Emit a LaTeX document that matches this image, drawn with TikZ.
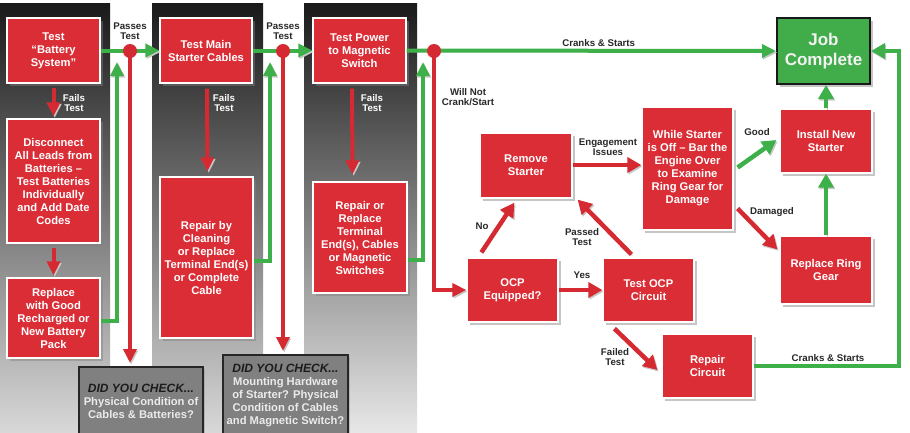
\documentclass[tikz,border=0pt]{standalone}
\usepackage{fontspec}
\setmainfont{Liberation Sans}
\usetikzlibrary{arrows.meta,shadows,calc}
\definecolor{boxred}{RGB}{218,45,54}
\definecolor{lnred}{RGB}{214,42,50}
\definecolor{lngreen}{RGB}{62,176,74}
\definecolor{jobgreen}{RGB}{64,172,74}
\definecolor{chkgray}{RGB}{128,128,128}
\definecolor{lblc}{RGB}{40,40,40}
\newcommand{\myChkHead}{\fontsize{12}{13}\selectfont\bfseries\itshape\color{lblc!70!black}}
\begin{document}
\begin{tikzpicture}[x=1pt,y=-1pt,
  redbox/.style={fill=boxred, draw=white, line width=1.2pt, text=white,
    font=\fontsize{11.2}{13}\selectfont\bfseries, align=center, inner sep=0pt,
    drop shadow={shadow xshift=2.5pt,shadow yshift=-2.5pt,opacity=0.45}},
  jobbox/.style={fill=jobgreen, draw=black!90, line width=2pt, text=white!95!black,
    font=\fontsize{17}{20}\selectfont\bfseries, align=center, inner sep=0pt,
    drop shadow={shadow xshift=2.5pt,shadow yshift=-2.5pt,opacity=0.45}},
  chkbox/.style={fill=chkgray, draw=black!85, line width=2pt, text=white!92!black,
    font=\fontsize{11.2}{13}\selectfont\bfseries, align=center, inner sep=0pt,
    drop shadow={shadow xshift=2pt,shadow yshift=-2pt,opacity=0.35}},
  lbl/.style={text=lblc, font=\fontsize{9.7}{10}\selectfont\bfseries, align=center, inner sep=0pt},
  faillbl/.style={lbl, text=white},
  lshadow/.style={preaction={draw=black!22, transform canvas={shift={(1.2pt,-1.5pt)}}}},
  gline/.style={draw=lngreen, line width=4pt, lshadow},
  garrow/.style={gline, -{Triangle[width=13pt,length=14pt]}},
  rline/.style={draw=lnred, line width=4pt, lshadow},
  rarrow/.style={rline, -{Triangle[width=13pt,length=14pt]}},
  bigr/.style={draw=lnred, line width=4.5pt, lshadow, -{Triangle[width=15pt,length=14pt]}},
  bigg/.style={draw=lngreen, line width=4.5pt, lshadow, -{Triangle[width=15pt,length=14pt]}},
  junc/.style={circle, fill=lnred, minimum size=14pt, inner sep=0pt}
]
\useasboundingbox (0,0) rectangle (910,432);
\fill[white] (0,0) rectangle (910,432);
% column panels
\shade[top color=black!90, middle color=black!62, bottom color=black!14] (0,3) rectangle (110,440);
\shade[top color=black!90, middle color=black!62, bottom color=black!14] (152,3) rectangle (263,440);
\shade[top color=black!90, middle color=black!62, bottom color=black!8] (304,3) rectangle (417,440);

% boxes column 1
\node[redbox, minimum width=93, minimum height=65] (tb) at (53.5,50.5) {Test\\“Battery\\System”};
\node[redbox, minimum width=93, minimum height=124] (dc) at (53.5,181) {Disconnect\\All Leads from\\Batteries –\\Test Batteries\\Individually\\and Add Date\\Codes};
\node[redbox, minimum width=93, minimum height=80] (rb) at (53.5,318) {Replace\\with Good\\Recharged or\\New Battery\\Pack};
% column 2
\node[redbox, minimum width=92, minimum height=65] (tm) at (206,50.5) {Test Main\\Starter Cables};
\node[redbox, minimum width=93, minimum height=161] (rc) at (206.5,257.5) {Repair by\\Cleaning\\or Replace\\Terminal End(s)\\or Complete\\Cable};
% column 3
\node[redbox, minimum width=93, minimum height=65] (tp) at (359.5,50.5) {Test Power\\to Magnetic\\Switch};
\node[redbox, minimum width=94, minimum height=111] (rr) at (360,237.5) {Repair or\\Replace\\Terminal\\End(s), Cables\\or Magnetic\\Switches};
% right part
\node[redbox, minimum width=92, minimum height=65] (rs) at (526,165.5) {Remove\\Starter};
\node[redbox, minimum width=91, minimum height=123] (ws) at (687.5,168.5) {While Starter\\is Off – Bar the\\Engine Over\\to Examine\\Ring Gear for\\Damage};
\node[redbox, minimum width=92, minimum height=64] (ins) at (826,141) {Install New\\Starter};
\node[jobbox, minimum width=93, minimum height=66] (jc) at (823.5,51) {Job\\Complete};
\node[redbox, minimum width=92, minimum height=68] (rrg) at (826,270) {Replace Ring\\Gear};
\node[redbox, minimum width=91, minimum height=64] (ocp) at (512.5,290) {OCP\\Equipped?};
\node[redbox, minimum width=91, minimum height=64] (tocp) at (648.5,290) {Test OCP\\Circuit};
\node[redbox, minimum width=91, minimum height=64] (rcir) at (707.5,366) {Repair\\Circuit};
% check boxes
\node[chkbox, minimum width=124, minimum height=69] (chk1) at (141,401.5) {{\myChkHead DID YOU CHECK...}\\Physical Condition of\\Cables \& Batteries?};
\node[chkbox, minimum width=125, minimum height=81] (chk2) at (285.5,395.5) {{\myChkHead DID YOU CHECK...}\\Mounting Hardware\\of Starter? Physical\\Condition of Cables\\and Magnetic Switch?};

% junction coordinates
\coordinate (j1) at (130,51);
\coordinate (j2) at (283,51);
\coordinate (j3) at (434,51);
\coordinate (g1) at (117,62);
\coordinate (g2) at (270,62);
\coordinate (g3) at (423,62);
\coordinate (cr) at (899,51);

% fails arrows
\draw[rarrow, shorten <=4pt, shorten >=2pt] (tb.south) -- (dc.north);
\draw[rarrow, shorten <=4pt, shorten >=2pt] (dc.south) -- (rb.north);
\draw[rarrow, shorten <=5pt, shorten >=5pt] ([xshift=1pt]tm.south) -- ([xshift=1pt]rc.north);
\draw[rarrow, shorten <=5pt, shorten >=7pt] ([xshift=-7.5pt]tp.south) -- ([xshift=-7.5pt]rr.north);
\node[faillbl] at (74,103) {Fails\\Test};
\node[faillbl] at (224,103) {Fails\\Test};
\node[faillbl] at (372,103) {Fails\\Test};

% passes connectors
\draw[garrow] (tb.east) -- (tm.west);
\draw[garrow] (tm.east) -- (tp.west);
\draw[garrow] (tp.east) -- node[lbl, above=2.5pt, pos=0.52] {Cranks \& Starts} (jc.west);
\draw[garrow] ([yshift=-3pt]rb.east) -| (g1);
\draw[garrow] ([yshift=-3pt]rc.east) -| (g2);
\draw[garrow] ([yshift=-22pt]rr.east) -| (g3);
\draw[rarrow, shorten >=3pt] (j1) -- (j1 |- chk1.north);
\draw[rarrow, shorten >=3pt] (j2) -- (j2 |- chk2.north);
\draw[rarrow] (j3) |- (ocp.west);
\node[junc] (c1) at (j1) {};
\node[junc] (c2) at (j2) {};
\node[junc] (c3) at (j3) {};
\node[lbl] at (130,31) {Passes\\Test};
\node[lbl] at (283,31) {Passes\\Test};
\node[lbl] at (468,97) {Will Not\\Crank/Start};

% right part connectors
\draw[bigr] (rs.east |- 0,165) -- (ws.west |- 0,165);
\node[lbl] at (608,147) {Engagement\\Issues};
\draw[bigr] ($(ocp.north west)+(15,-5)$) -- ($(rs.south west)+(35,4)$);
\node[lbl] at (482,226) {No};
\draw[bigr] ($(tocp.north west)+(29,-3)$) -- ($(rs.south east)+(5,1)$);
\node[lbl] at (582,237) {Passed\\Test};
\draw[bigr] (ocp.east) -- (tocp.west);
\node[lbl] at (582,275) {Yes};
\draw[bigr] ($(tocp.south west)+(12,6)$) -- ($(rcir.west)+(-4,4)$);
\node[lbl] at (615,357) {Failed\\Test};
\draw[bigg] ($(ws.east)+(4,-1)$) -- ($(ins.west)+(-3,-1)$);
\node[lbl] at (757,132) {Good};
\draw[bigr] ($(ws.east)+(4,40)$) -- ($(rrg.north west)+(-2,14)$);
\node[lbl] at (772,212) {Damaged};
\draw[bigg] (rrg.north) -- (ins.south);
\draw[bigg] (ins.north) -- (ins.north |- jc.south);
\draw[bigg] (rcir.east) -| (cr) -- (jc.east);
\node[lbl] at (828,358) {Cranks \& Starts};
\end{tikzpicture}
\end{document}
